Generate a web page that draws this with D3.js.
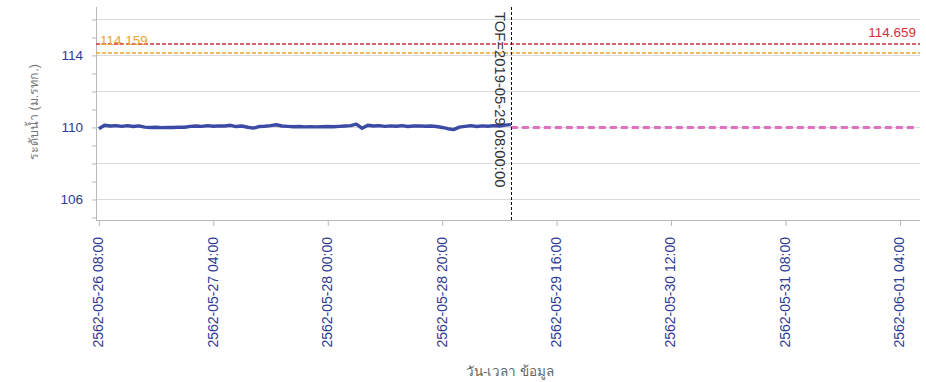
<!DOCTYPE html>
<html><head><meta charset="utf-8">
<script src="https://cdn.jsdelivr.net/npm/d3@7"></script>
<style>
body{margin:0;background:#fff;}
svg{display:block;font-family:"Liberation Sans",Arial,sans-serif;}
</style></head>
<body><svg id="c" width="926" height="382"></svg>
<script>
// ---- data ----
const obsStart = "2019-05-26T08:00:00";
const obsValues = [109.93,110.12,110.08,110.10,110.06,110.10,110.05,110.09,110.02,110.00,
110.01,109.99,110.00,110.00,110.02,110.01,110.06,110.08,110.06,110.10,
110.07,110.09,110.08,110.12,110.05,110.08,110.01,109.96,110.05,110.07,
110.10,110.15,110.08,110.06,110.04,110.05,110.03,110.04,110.03,110.04,
110.05,110.04,110.06,110.08,110.10,110.18,109.95,110.12,110.08,110.10,
110.06,110.09,110.07,110.10,110.05,110.08,110.09,110.07,110.08,110.05,
110.00,109.93,109.88,110.02,110.06,110.10,110.05,110.09,110.07,110.10,
110.08,110.13,110.16];
const forecastTimes = ["2019-05-29T08:00:00","2019-06-01T07:00:00"];
const forecastValues = [110.0, 110.0];
const thresholdValues = [114.659, 114.159];
const thresholdColors = ["#d0303a", "#eea232"];
const tofTime = "2019-05-29T08:00:00";
const tofLabel = "TOF=2019-05-29 08:00:00";
const xTickLabels = ["2562-05-26 08:00","2562-05-27 04:00","2562-05-28 00:00","2562-05-28 20:00",
"2562-05-29 16:00","2562-05-30 12:00","2562-05-31 08:00","2562-06-01 04:00"];
const yTickLabels = [106, 110, 114];
const yGrid = [106,108,110,112,114,116];
const yMinor = [105,106,107,108,109,110,111,112,113,114,115,116];
const xDomain = ["2019-05-26T07:30:00","2019-06-01T07:30:00"];
const yDomain = [104.86, 116.69];
const yTitle = "ระดับน้ำ (ม.รทก.)";
const xTitle = "วัน-เวลา ข้อมูล";

// ---- drawing ----
const svg = d3.select("#c");
const L=96, R=920, T=7, B=220;
const parse = s => new Date(s);
const thaiParse = s => { const y=+s.slice(0,4)-543; return new Date(y + s.slice(4).replace(" ","T")+":00"); };
const x = d3.scaleTime().domain(xDomain.map(parse)).range([L,R]);
const y = d3.scaleLinear().domain(yDomain).range([B,T]);
const cy = v => Math.round(y(v))+0.5;

// grid
svg.append("g").selectAll("line").data(yGrid).join("line")
  .attr("x1",L).attr("x2",R).attr("y1",d=>cy(d)).attr("y2",d=>cy(d))
  .attr("stroke","#dcdcdc").attr("stroke-width",1);

// y axis
const yAxis = svg.append("g").attr("transform",`translate(${L},0)`)
  .call(d3.axisLeft(y).tickValues(yMinor).tickSize(4).tickFormat(""));
yAxis.select(".domain").attr("stroke","#b8b8b8").attr("d",`M0.5,${T}V${B}`);
yAxis.selectAll(".tick line").attr("stroke","#b8b8b8");
svg.append("g").selectAll("text").data(yTickLabels).join("text")
  .attr("x",L-13).attr("y",d=>y(d)).attr("dy","0.36em").attr("text-anchor","end")
  .attr("fill","#2e3a93").attr("font-size",13.5).text(d=>d);

// x axis
const xTicks = xTickLabels.map(thaiParse);
const xAxis = svg.append("g").attr("transform",`translate(0,${B})`)
  .call(d3.axisBottom(x).tickValues(xTicks).tickSize(6).tickFormat(""));
xAxis.select(".domain").attr("stroke","#b8b8b8").attr("d",`M${L},0.5H${R}`);
xAxis.selectAll(".tick line").attr("stroke","#b8b8b8");
svg.append("g").selectAll("text").data(xTickLabels).join("text")
  .attr("transform",(d,i)=>`translate(${x(xTicks[i])-0.5},237) rotate(-90)`)
  .attr("dy","0.35em").attr("text-anchor","end")
  .attr("fill","#2e3a93").attr("font-size",14).text(d=>d);

// thresholds
svg.append("g").selectAll("line").data(thresholdValues).join("line")
  .attr("x1",L).attr("x2",R).attr("y1",d=>Math.round(y(d))).attr("y2",d=>Math.round(y(d)))
  .attr("stroke",(d,i)=>thresholdColors[i]).attr("stroke-width",1.6)
  .attr("stroke-dasharray","4,2");
svg.append("text").attr("x",916).attr("y",y(thresholdValues[0])-7).attr("text-anchor","end")
  .attr("fill",thresholdColors[0]).attr("font-size",13.5).text(thresholdValues[0].toFixed(3));
svg.append("text").attr("x",100).attr("y",y(thresholdValues[0])+1.5).attr("text-anchor","start")
  .attr("fill",thresholdColors[1]).attr("font-size",13.5).text(thresholdValues[1].toFixed(3));

// observed line
const t0 = parse(obsStart);
const obs = obsValues.map((v,i)=>({t:new Date(+t0 + i*3600e3), v}));
svg.append("path").datum(obs)
  .attr("d",d3.line().x(d=>x(d.t)).y(d=>y(d.v)))
  .attr("fill","none").attr("stroke","#3b4aa5").attr("stroke-width",3.4).attr("stroke-linejoin","round");

// forecast
const fc = forecastTimes.map((t,i)=>({t:parse(t), v:forecastValues[i]}));
svg.append("path").datum(fc)
  .attr("d",d3.line().x(d=>x(d.t)).y(d=>y(d.v)))
  .attr("fill","none").attr("stroke","#e070c0").attr("stroke-width",3)
  .attr("stroke-dasharray","7,4");

// TOF
const tx = Math.round(x(parse(tofTime)))+0.5;
svg.append("line").attr("x1",tx).attr("x2",tx).attr("y1",T).attr("y2",B)
  .attr("stroke","#111").attr("stroke-width",1).attr("stroke-dasharray","3,2");
svg.append("text").attr("transform",`translate(${tx-17},12) rotate(90)`)
  .attr("fill","#333").attr("font-size",14.8).text(tofLabel);

// titles
svg.append("text").attr("transform",`translate(38,112) rotate(-90)`).attr("text-anchor","middle")
  .attr("fill","#777").attr("font-size",12.5).text(yTitle);
svg.append("text").attr("x",510).attr("y",376).attr("text-anchor","middle")
  .attr("fill","#666").attr("font-size",13.5).text(xTitle);
</script></body></html>
